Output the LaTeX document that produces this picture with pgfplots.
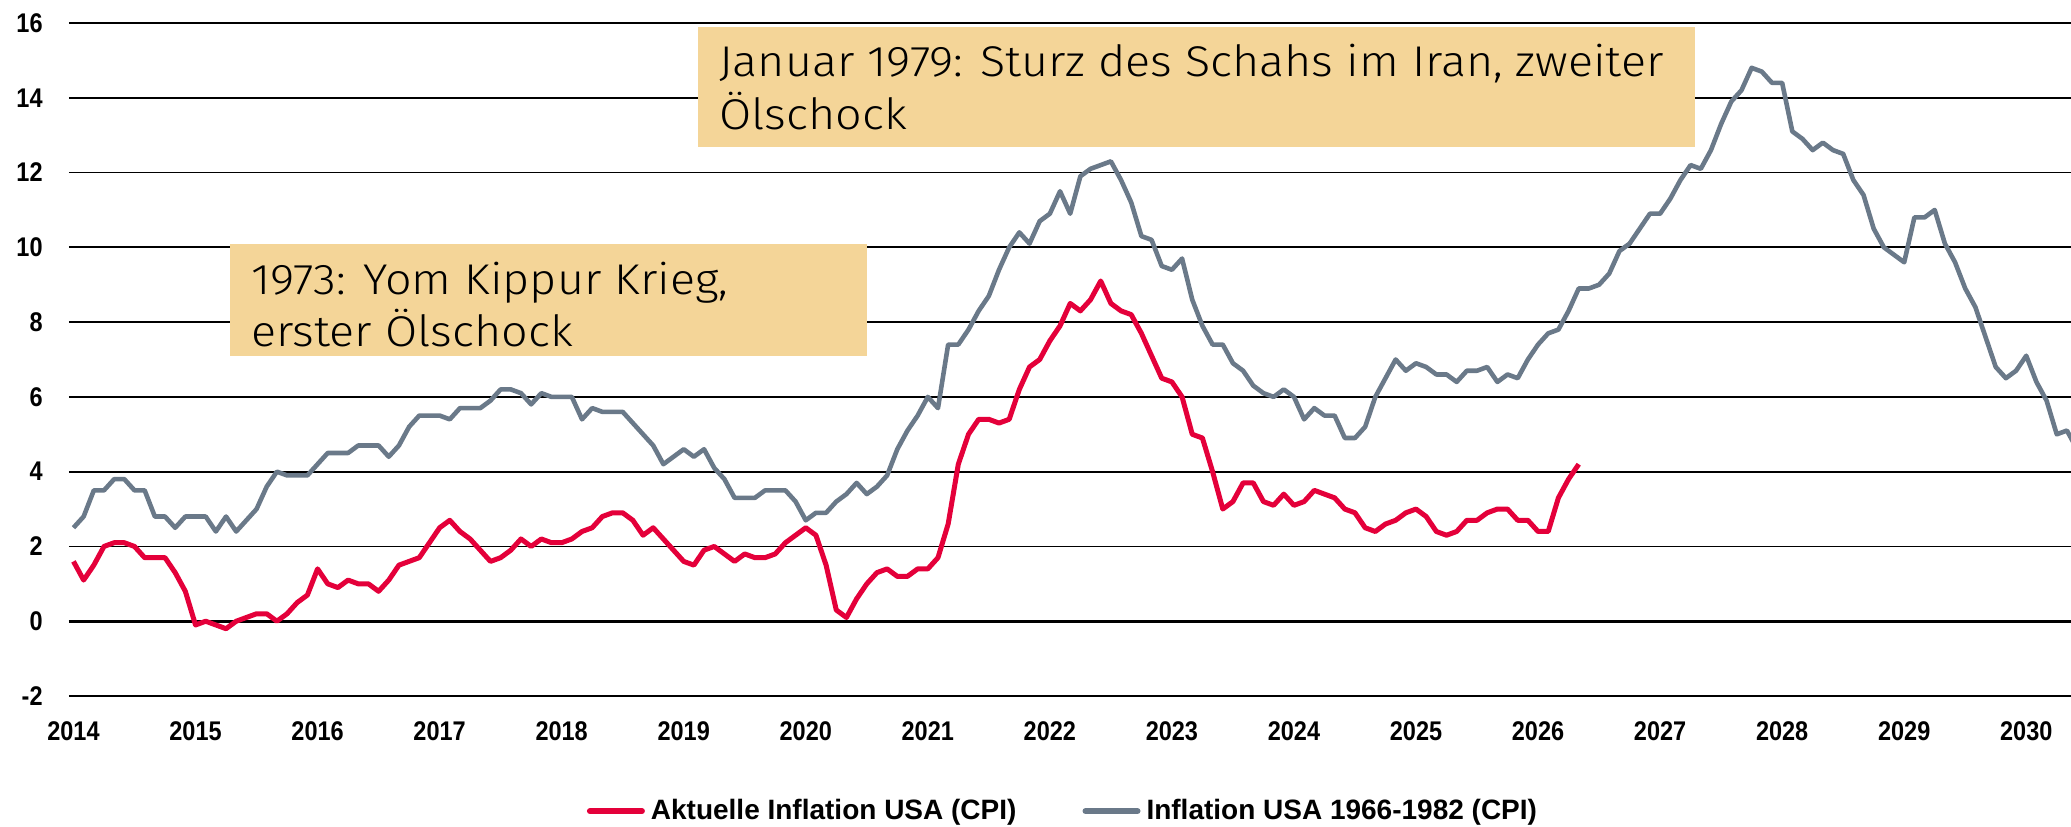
\documentclass[border=0pt]{standalone}
\usepackage{fontspec}
\setmainfont{Liberation Sans}
\newfontfamily\tickfont{Liberation Sans}[FakeStretch=0.87]
\newfontfamily\legfont{Liberation Sans}
\newfontfamily\annfont{Fira Sans Light}[FakeStretch=1.085]
\usepackage{pgfplots}
\usepackage{pgfplotstable}
\pgfplotsset{compat=1.18}
\definecolor{cpired}{RGB}{228,0,58}
\definecolor{cpigray}{RGB}{106,121,137}
\definecolor{boxfill}{RGB}{244,213,152}

% Aktuelle Inflation USA, Jan 2014 - May 2026 (index 0 = Jan 2014)
\pgfplotstableread[row sep=\\]{
v\\
1.6\\1.1\\1.5\\2.0\\2.1\\2.1\\2.0\\1.7\\1.7\\1.7\\1.3\\0.8\\
-0.1\\0.0\\-0.1\\-0.2\\0.0\\0.1\\0.2\\0.2\\0.0\\0.2\\0.5\\0.7\\
1.4\\1.0\\0.9\\1.1\\1.0\\1.0\\0.8\\1.1\\1.5\\1.6\\1.7\\2.1\\
2.5\\2.7\\2.4\\2.2\\1.9\\1.6\\1.7\\1.9\\2.2\\2.0\\2.2\\2.1\\
2.1\\2.2\\2.4\\2.5\\2.8\\2.9\\2.9\\2.7\\2.3\\2.5\\2.2\\1.9\\
1.6\\1.5\\1.9\\2.0\\1.8\\1.6\\1.8\\1.7\\1.7\\1.8\\2.1\\2.3\\
2.5\\2.3\\1.5\\0.3\\0.1\\0.6\\1.0\\1.3\\1.4\\1.2\\1.2\\1.4\\
1.4\\1.7\\2.6\\4.2\\5.0\\5.4\\5.4\\5.3\\5.4\\6.2\\6.8\\7.0\\
7.5\\7.9\\8.5\\8.3\\8.6\\9.1\\8.5\\8.3\\8.2\\7.7\\7.1\\6.5\\
6.4\\6.0\\5.0\\4.9\\4.0\\3.0\\3.2\\3.7\\3.7\\3.2\\3.1\\3.4\\
3.1\\3.2\\3.5\\3.4\\3.3\\3.0\\2.9\\2.5\\2.4\\2.6\\2.7\\2.9\\
3.0\\2.8\\2.4\\2.3\\2.4\\2.7\\2.7\\2.9\\3.0\\3.0\\2.7\\2.7\\
2.4\\2.4\\3.3\\3.8\\4.2\\
}\redtab

% Inflation USA 1966-1982, Jun 1966 - Dec 1982 (index 0 = Jun 1966)
\pgfplotstableread[row sep=\\]{
v\\
2.5\\2.8\\3.5\\3.5\\3.8\\3.8\\3.5\\
3.5\\2.8\\2.8\\2.5\\2.8\\2.8\\2.8\\2.4\\2.8\\2.4\\2.7\\3.0\\
3.6\\4.0\\3.9\\3.9\\3.9\\4.2\\4.5\\4.5\\4.5\\4.7\\4.7\\4.7\\
4.4\\4.7\\5.2\\5.5\\5.5\\5.5\\5.4\\5.7\\5.7\\5.7\\5.9\\6.2\\
6.2\\6.1\\5.8\\6.1\\6.0\\6.0\\6.0\\5.4\\5.7\\5.6\\5.6\\5.6\\
5.3\\5.0\\4.7\\4.2\\4.4\\4.6\\4.4\\4.6\\4.1\\3.8\\3.3\\3.3\\
3.3\\3.5\\3.5\\3.5\\3.2\\2.7\\2.9\\2.9\\3.2\\3.4\\3.7\\3.4\\
3.6\\3.9\\4.6\\5.1\\5.5\\6.0\\5.7\\7.4\\7.4\\7.8\\8.3\\8.7\\
9.4\\10.0\\10.4\\10.1\\10.7\\10.9\\11.5\\10.9\\11.9\\12.1\\12.2\\12.3\\
11.8\\11.2\\10.3\\10.2\\9.5\\9.4\\9.7\\8.6\\7.9\\7.4\\7.4\\6.9\\
6.7\\6.3\\6.1\\6.0\\6.2\\6.0\\5.4\\5.7\\5.5\\5.5\\4.9\\4.9\\
5.2\\6.0\\6.5\\7.0\\6.7\\6.9\\6.8\\6.6\\6.6\\6.4\\6.7\\6.7\\
6.8\\6.4\\6.6\\6.5\\7.0\\7.4\\7.7\\7.8\\8.3\\8.9\\8.9\\9.0\\
9.3\\9.9\\10.1\\10.5\\10.9\\10.9\\11.3\\11.8\\12.2\\12.1\\12.6\\13.3\\
13.9\\14.2\\14.8\\14.7\\14.4\\14.4\\13.1\\12.9\\12.6\\12.8\\12.6\\12.5\\
11.8\\11.4\\10.5\\10.0\\9.8\\9.6\\10.8\\10.8\\11.0\\10.1\\9.6\\8.9\\
8.4\\7.6\\6.8\\6.5\\6.7\\7.1\\6.4\\5.9\\5.0\\5.1\\4.6\\3.8\\
}\graytab

\begin{document}
\begin{tikzpicture}
\begin{axis}[
  at={(0pt,0pt)}, anchor=south west,
  scale only axis, width=1001pt, height=336.5pt,
  xmin=-0.44, xmax=196.4, ymin=-2, ymax=16,
  axis line style={draw=none},
  major tick length=0pt,
  xtick={0,12,24,36,48,60,72,84,96,108,120,132,144,156,168,180,192},
  xticklabels={2014,2015,2016,2017,2018,2019,2020,2021,2022,2023,2024,2025,2026,2027,2028,2029,2030},
  ytick={-2,0,2,4,6,8,10,12,14,16},
  yticklabels={-2,0,2,4,6,8,10,12,14,16},
  ymajorgrids,
  grid style={black, line width=0.85pt},
  extra y ticks={0}, extra y tick labels={},
  extra y tick style={grid style={black, line width=1.7pt}},
  ticklabel style={font=\tickfont\bfseries\fontsize{13.5pt}{15pt}\selectfont, inner sep=0pt},
  xticklabel style={anchor=north, yshift=-12.5pt},
  yticklabel style={anchor=east, xshift=-13pt},
  legend columns=2,
  legend style={at={(0.496,-0.171)}, anchor=center, draw=none, fill=none,
    inner sep=0pt, font=\legfont\bfseries\fontsize{14pt}{16pt}\selectfont,
    nodes={inner sep=0pt},
    /tikz/every odd column/.append style={column sep=3pt},
    /tikz/every even column/.append style={column sep=33pt}},
  legend image code/.code={\draw[#1, line width=3pt, line cap=round] (0pt,0pt) -- (26pt,0pt);},
]
\addplot[cpired, line width=2.5pt, line join=round] table[x expr=\coordindex, y=v] {\redtab};
\addlegendentry{Aktuelle Inflation USA (CPI)}
\addplot[cpigray, line width=2.3pt, line join=round] table[x expr=\coordindex, y=v] {\graytab};
\addlegendentry{Inflation USA 1966-1982 (CPI)}
\end{axis}
\fill[boxfill] (80.5pt,170pt) rectangle (399pt,226pt);
\node[anchor=base west, inner sep=0pt, font=\annfont\fontsize{21.5pt}{26pt}\selectfont] at (91pt,201pt) {1973: Yom Kippur Krieg,};
\node[anchor=base west, inner sep=0pt, font=\annfont\fontsize{21.5pt}{26pt}\selectfont] at (91pt,175pt) {erster Ölschock};
\fill[boxfill] (314.5pt,274.5pt) rectangle (813pt,334.5pt);
\node[anchor=base west, inner sep=0pt, font=\annfont\fontsize{21.5pt}{26pt}\selectfont] at (325pt,309.5pt) {Januar 1979: Sturz des Schahs im Iran, zweiter};
\node[anchor=base west, inner sep=0pt, font=\annfont\fontsize{21.5pt}{26pt}\selectfont] at (325pt,283.5pt) {Ölschock};
\pgfresetboundingbox
\path[use as bounding box] (-34.5pt,-65pt) rectangle (1001pt,348pt);
\end{tikzpicture}
\end{document}
